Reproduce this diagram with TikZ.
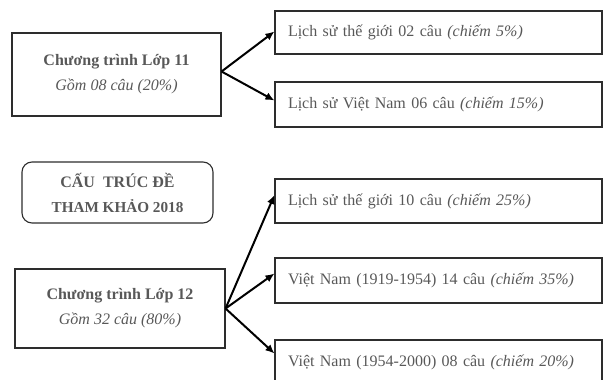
\documentclass[tikz,border=0pt]{standalone}
\usepackage{fontspec}
\setmainfont{Liberation Serif}
\usetikzlibrary{arrows.meta}
\definecolor{txt}{RGB}{88,88,88}
\definecolor{edge}{RGB}{45,45,45}
\begin{document}
\begin{tikzpicture}[x=1pt,y=-1pt,
  box/.style={draw=edge,line width=1.1pt,text=txt,font=\fontsize{16}{25}\selectfont,align=center,inner sep=0pt},
  rbox/.style={draw=edge,line width=1.1pt,text=txt,font=\fontsize{16}{20}\selectfont,minimum width=327pt,text width=301pt,align=left,inner xsep=13pt,inner ysep=0pt},
  arr/.style={line width=2pt,-{Latex[length=9pt,width=8pt]}}]
\useasboundingbox (0,0) rectangle (608,380);
\clip (0,0) rectangle (608,380);
\node[box,minimum width=209pt,minimum height=83pt] (A) at (116.5,74.5) {\textbf{Chương trình Lớp 11}\\\textit{Gồm 08 câu (20\%)}};
\node[box,rounded corners=10pt,minimum width=191pt,minimum height=61pt] (T) at (117.5,192.5) {\textbf{CẤU\ \ TRÚC ĐỀ}\\\textbf{\fontsize{15.2}{25}\selectfont THAM KHẢO 2018}};
\node[box,minimum width=210pt,minimum height=79pt] (B) at (120,308.5) {\textbf{Chương trình Lớp 12}\\\textit{Gồm 32 câu (80\%)}};
\node[rbox,minimum height=43pt] (r1) at (438.5,32.5) {Lịch sử thế giới 02 câu \textit{(chiếm 5\%)}};
\node[rbox,minimum height=45pt] (r2) at (438.5,104.5) {Lịch sử Việt Nam 06 câu \textit{(chiếm 15\%)}};
\node[rbox,minimum height=44pt] (r3) at (438.5,201) {Lịch sử thế giới 10 câu \textit{(chiếm 25\%)}};
\node[rbox,minimum height=45pt] (r4) at (438.5,280.5) {Việt Nam (1919-1954) 14 câu \textit{(chiếm 35\%)}};
\node[rbox,minimum height=45pt] (r5) at (438.5,362.5) {Việt Nam (1954-2000) 08 câu \textit{(chiếm 20\%)}};
\coordinate (a0) at ([yshift=3pt]A.east);
\coordinate (b0) at (B.east);
\draw[arr] (a0) -- ([yshift=1pt]r1.west);
\draw[arr] (a0) -- ([yshift=4pt]r2.west);
\draw[arr] (b0) -- ([yshift=6pt]r3.west);
\draw[arr] (b0) -- ([yshift=7pt]r4.west);
\draw[arr] (b0) -- ([yshift=9pt]r5.west);
\end{tikzpicture}
\end{document}
